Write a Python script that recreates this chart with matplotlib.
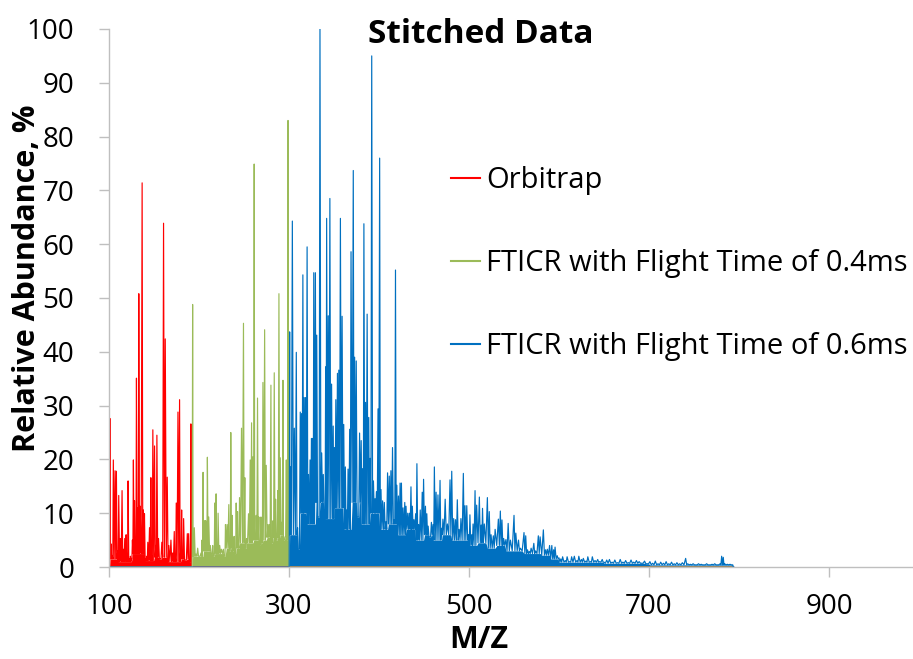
import matplotlib.pyplot as plt
import numpy as np

plt.rcParams['font.family'] = ['Open Sans', 'DejaVu Sans']

# Orbitrap segment, m/z 100-193
orbi_mz = [101.1, 102.2, 103.7, 104.8, 106.7, 108.2, 109.7, 110.8, 112.6, 114.5,
           116.0, 117.5, 119.0, 120.1, 121.2, 122.7, 123.8, 124.9, 126.0, 127.1,
           128.3, 129.4, 130.5, 132.0, 133.1, 134.6, 136.8, 138.2, 139.4, 140.9,
           142.0, 143.1, 145.0, 146.5, 147.6, 148.7, 150.6, 152.0, 153.2, 155.0,
           156.9, 158.7, 160.6, 162.5, 164.7, 166.5, 168.8, 170.6, 172.5, 173.6,
           174.7, 176.6, 178.4, 179.6, 180.7, 181.8, 182.9, 184.8, 187.0, 188.5,
           190.0, 191.0]
orbi_ab = [27.6, 4.3, 2.0, 19.9, 17.9, 17.8, 3.0, 13.3, 5.3, 14.2,
           3.3, 5.3, 6.0, 2.0, 16.0, 1.5, 2.0, 1.5, 5.0, 19.9,
           12.3, 3.0, 35.1, 11.0, 50.8, 11.3, 71.4, 10.6, 9.9, 1.5,
           2.0, 4.6, 7.3, 16.6, 2.0, 25.5, 22.5, 4.0, 24.5, 5.3,
           1.5, 4.6, 63.9, 42.4, 16.7, 4.0, 5.0, 2.6, 6.6, 2.0,
           11.9, 28.8, 31.1, 3.0, 10.6, 2.0, 9.0, 1.3, 6.2, 6.2,
           1.0, 26.6]
# noise floor between peaks: level from each m/z edge onwards
orbi_floor_mz = [100, 110, 125, 140, 150, 165, 180]
orbi_floor = [1.5, 1.0, 2.5, 1.2, 1.8, 1.0, 1.5]

# FTICR, flight time 0.4 ms, m/z 193-300
ft04_mz = [192.9, 194.0, 194.8, 196.7, 198.5, 200.4, 202.2, 203.3, 204.5, 205.6,
           206.3, 207.4, 208.2, 209.3, 210.8, 212.6, 214.1, 215.2, 216.4, 217.5,
           219.0, 220.1, 221.2, 223.0, 224.9, 227.1, 228.3, 229.4, 231.2, 233.1,
           234.2, 235.3, 236.8, 237.9, 239.0, 240.1, 241.3, 242.8, 243.9, 245.0,
           247.2, 249.4, 250.9, 252.0, 252.8, 255.0, 256.9, 258.4, 259.9, 261.3,
           262.5, 263.6, 265.0, 266.5, 267.7, 268.8, 269.9, 271.0, 272.9, 274.7,
           276.6, 278.1, 279.9, 281.0, 282.2, 283.6, 285.1, 286.2, 287.4, 288.8,
           290.3, 291.8, 293.3, 294.4, 295.5, 297.0, 298.1, 298.9, 299.6]
ft04_ab = [48.8, 3.0, 7.3, 2.4, 3.5, 2.0, 2.6, 5.0, 17.6, 3.0,
           8.6, 8.6, 3.0, 20.4, 9.3, 4.0, 2.5, 4.0, 2.0, 11.9,
           13.6, 3.0, 10.0, 4.0, 3.3, 3.3, 2.0, 7.9, 7.9, 11.6,
           3.0, 25.0, 9.6, 3.0, 5.7, 2.5, 11.9, 10.3, 4.0, 12.9,
           25.8, 45.3, 16.6, 3.5, 5.3, 9.9, 19.9, 26.8, 20.5, 74.9,
           5.0, 9.6, 31.4, 9.3, 4.0, 9.3, 4.5, 34.3, 44.1, 18.9,
           7.9, 7.9, 33.8, 4.5, 8.6, 36.1, 12.6, 5.0, 14.2, 50.8,
           20.3, 8.3, 34.7, 5.0, 5.6, 19.9, 5.0, 83.0, 5.0]
ft04_floor_mz = [192, 205, 215, 230, 245, 260, 275, 290]
ft04_floor = [2.0, 3.0, 2.5, 3.5, 4.5, 5.0, 5.5, 6.0]

# FTICR, flight time 0.6 ms, m/z 300-795
ft06_mz = [300.7, 301.5, 303.7, 305.9, 308.1, 309.5, 310.6, 312.5, 313.9, 315.4,
           316.8, 318.3, 320.1, 321.6, 323.4, 324.9, 326.4, 327.5, 329.3, 330.8,
           332.6, 334.4, 336.3, 338.1, 339.6, 340.7, 341.8, 343.6, 345.4, 347.3,
           349.1, 350.5, 352.0, 353.8, 355.3, 357.1, 359.0, 360.8, 362.6, 364.1,
           365.6, 367.4, 368.9, 371.4, 372.9, 374.7, 376.6, 378.4, 380.2, 382.0,
           383.2, 385.0, 386.8, 388.6, 390.1, 391.9, 393.8, 395.6, 397.1, 398.9,
           400.7, 402.2, 404.0, 405.9, 407.7, 409.5, 411.4, 413.2, 415.0, 416.8,
           418.3, 419.8, 421.6, 423.4, 424.9, 426.7, 428.6, 430.0, 431.9, 433.7,
           435.5, 437.0, 438.8, 440.7, 442.1, 444.0, 445.8, 448.0, 449.5, 451.6,
           453.1, 454.6, 456.4, 458.2, 460.1, 461.5, 463.4,
           465.5, 467.8, 469.5, 471.0, 473.5, 476.0, 478.9, 480.8, 483.0, 485.0,
           487.0, 489.0, 491.0, 493.7, 495.5, 497.5, 499.5, 501.0, 503.0, 504.5,
           506.7, 508.5, 511.5, 513.5, 515.0, 517.0, 520.4, 522.5, 524.5, 527.0,
           529.0, 532.6, 534.8, 536.6, 538.5, 541.0, 543.5, 546.0, 550.0, 552.0,
           555.0, 557.0, 561.1, 563.0, 565.0, 567.0, 569.0, 572.0, 574.0, 577.0,
           579.0, 582.6, 585.0, 587.0, 589.5, 592.0, 594.0, 595.6, 598.0, 600.0, 602.0,
           604, 607, 609, 612, 614, 617, 620, 622, 625, 627,
           630, 632, 635, 637, 640, 643, 645, 648, 650, 653,
           656, 659, 662, 665, 668, 671, 674, 677, 680, 683,
           686, 689, 692, 695, 698, 701, 704, 707, 710, 713,
           716, 719, 722, 725, 728, 731, 734, 737, 740.7, 743,
           746, 749, 752, 755, 758, 761, 764, 767, 770, 773,
           776, 779, 780.7, 782.5, 784, 787, 790, 793]
ft06_ab = [43.7, 18.6, 64.3, 25.8, 39.9, 7.3, 3.3, 28.8, 28.5, 54.3,
           31.5, 31.5, 59.5, 17.2, 19.9, 23.9, 23.9, 54.7, 54.7, 43.1,
           9.3, 100.0, 21.2, 17.2, 10.6, 37.2, 64.8, 46.7, 68.5, 34.0,
           26.2, 22.2, 31.1, 36.0, 36.6, 64.8, 46.6, 26.5, 18.6, 10.6,
           18.2, 25.6, 58.6, 73.7, 39.0, 38.3, 9.3, 24.9, 23.5, 18.3,
           63.8, 30.6, 47.0, 27.8, 20.2, 95.0, 16.0, 12.7, 14.0, 29.4,
           76.0, 14.4, 12.3, 12.0, 8.4, 17.5, 16.9, 17.9, 22.2, 8.8,
           55.2, 15.2, 13.2, 15.6, 15.6, 11.0, 12.0, 11.3, 10.0, 10.0,
           14.9, 11.3, 8.8, 9.9, 19.2, 7.9, 10.6, 13.9, 16.3, 11.3,
           9.9, 7.6, 5.6, 8.3, 7.9, 18.6, 13.9,
           13.4, 16.1, 7.2, 8.9, 12.6, 8.0, 16.2, 17.8, 9.0, 8.8,
           12.5, 7.0, 9.0, 17.4, 11.4, 11.4, 6.0, 9.7, 6.0, 8.0,
           14.2, 11.5, 13.0, 7.8, 10.9, 8.0, 12.9, 10.3, 6.0, 5.8,
           7.0, 8.9, 10.4, 8.75, 5.3, 5.1, 8.1, 5.0, 9.6, 6.3,
           5.0, 3.5, 6.4, 5.8, 3.2, 2.9, 3.5, 4.4, 3.0, 5.8,
           5.6, 6.9, 3.2, 3.3, 4.0, 4.0, 3.2, 3.7, 2.1, 1.7, 1.5,
           1.9, 1.2, 1.9, 1.0, 1.9, 2.0, 1.2, 2.0, 1.4, 1.6,
           1.1, 1.9, 1.0, 1.9, 1.2, 1.4, 1.0, 1.4, 0.9, 1.3,
           1.4, 0.9, 1.3, 0.8, 1.4, 0.9, 1.2, 0.8, 1.3, 0.9,
           1.2, 1.0, 0.7, 1.1, 0.6, 1.0, 0.7, 1.1, 0.6, 0.9,
           0.7, 1.0, 0.6, 0.9, 0.6, 0.8, 0.6, 0.8, 1.6, 0.6,
           0.5, 0.6, 0.4, 0.6, 0.5, 0.4, 0.6, 0.4, 0.5, 0.6,
           0.4, 0.6, 2.0, 1.8, 0.6, 0.5, 0.5, 0.4]
ft06_floor_mz = [300, 310, 320, 330, 340, 350, 360, 370, 380, 390,
                 400, 410, 420, 430, 440, 450, 460, 470, 480, 490,
                 500, 510, 520, 530, 540, 550, 560, 570, 580, 590,
                 600, 650, 700]
ft06_floor = [6.0, 10.0, 8.0, 12.0, 9.0, 11.0, 7.0, 12.0, 8.0, 10.0,
              7.0, 8.0, 6.0, 7.0, 5.0, 6.0, 5.0, 6.0, 5.0, 5.0,
              4.0, 4.5, 3.5, 4.0, 3.0, 3.0, 2.5, 2.5, 2.2, 1.5,
              0.9, 0.7, 0.4]

# every segment is plotted over the full stitched range, zero outside its window
mz_start, mz_end = 100, 794


def full_trace(mz, ab, floor_mz, floor):
    mz = np.asarray(mz, float)
    ab = np.asarray(ab, float)
    floor = np.asarray(floor, float)
    # drop to the noise floor half way between neighbouring peaks
    mid = (mz[:-1] + mz[1:]) / 2
    lvl = floor[np.searchsorted(floor_mz, mid, side='right') - 1]
    lvl = np.minimum(lvl, np.minimum(ab[:-1], ab[1:]))
    top = np.minimum(ab, floor[np.searchsorted(floor_mz, mz, side='right') - 1])
    px = np.empty(2 * len(mz) - 1)
    py = np.empty_like(px)
    pf = np.empty_like(px)
    px[0::2], px[1::2] = mz, mid
    py[0::2], py[1::2] = ab, lvl
    pf[0::2], pf[1::2] = top, lvl
    x = np.r_[mz_start, mz[0] - 0.5, px, mz[-1] + 0.5, mz_end]
    y = np.r_[0, 0, py, 0, 0]
    f = np.r_[0, 0, pf, 0, 0]
    return x, y, f


fig = plt.figure(figsize=(9.13, 6.59), dpi=100)
ax = fig.add_axes([0.1194, 0.1396, 0.8872, 0.8164])

series = [
    (orbi_mz, orbi_ab, orbi_floor_mz, orbi_floor, '#FF0000', 'Orbitrap'),
    (ft04_mz, ft04_ab, ft04_floor_mz, ft04_floor, '#9BBB59',
     'FTICR with Flight Time of 0.4ms'),
    (ft06_mz, ft06_ab, ft06_floor_mz, ft06_floor, '#0070C0',
     'FTICR with Flight Time of 0.6ms'),
]
for mz, ab, fmz, fl, col, name in series:
    x, y, f = full_trace(mz, ab, fmz, fl)
    ax.fill_between(x, 0, f, color=col, lw=0)
    ax.plot(x, y, color=col, lw=0.85, label=name)

ax.set_xlim(100, 1000)
ax.set_ylim(0, 100)
ax.set_xticks([100, 300, 500, 700, 900])
ax.set_yticks(range(0, 101, 10))
for s in ['top', 'right']:
    ax.spines[s].set_visible(False)
for s in ['left', 'bottom']:
    ax.spines[s].set_color('#BFBFBF')
    ax.spines[s].set_linewidth(1.0)
ax.tick_params(axis='both', color='#BFBFBF', length=7, width=1, labelsize=20)
ax.tick_params(axis='y', pad=18)
ax.tick_params(axis='x', pad=12)

fig.text(0.527, 0.947, 'Stitched Data', ha='center', va='center',
         fontsize=24, fontweight='bold')
fig.text(0.030, 0.578, 'Relative Abundance, %', ha='center', va='center',
         rotation=90, fontsize=22, fontweight='bold')
fig.text(0.524, 0.029, 'M/Z', ha='center', va='center',
         fontsize=22, fontweight='bold')

leg = ax.legend(loc='upper left', bbox_to_anchor=(0.494, 0.748),
                bbox_transform=fig.transFigure, frameon=False, fontsize=21,
                handlelength=1.0, handletextpad=0.2, labelspacing=1.85,
                borderpad=0, borderaxespad=0)
for line in leg.get_lines():
    line.set_linewidth(1.5)

fig.savefig('out.png', dpi=100)
